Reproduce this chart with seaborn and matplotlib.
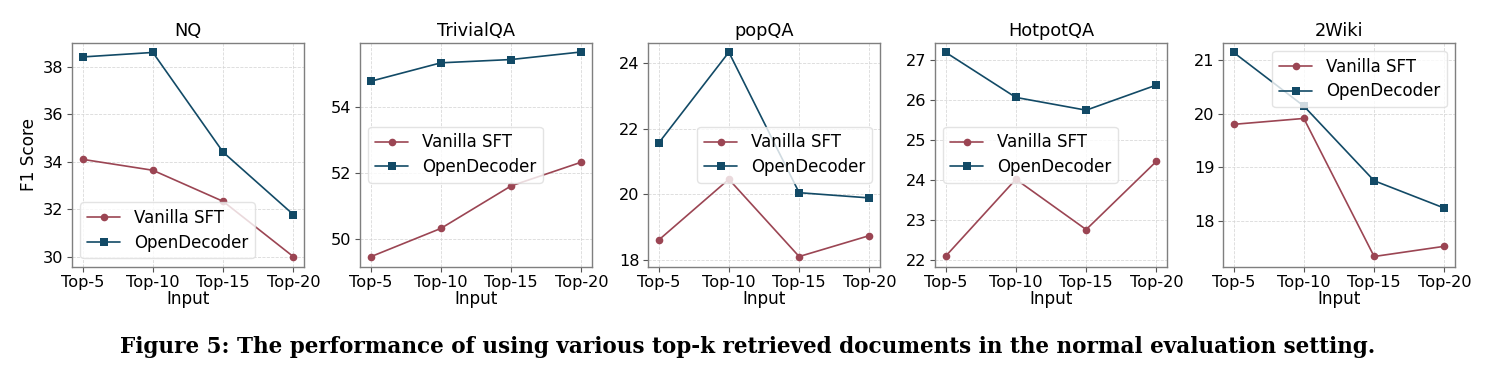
import numpy as np
import pandas as pd
import matplotlib
matplotlib.use("Agg")
import matplotlib.pyplot as plt
import seaborn as sns

inputs = ["Top-5", "Top-10", "Top-15", "Top-20"]
datasets = ["NQ", "TrivialQA", "popQA", "HotpotQA", "2Wiki"]
methods = ["Vanilla SFT", "OpenDecoder"]

vanilla_nq = [34.10, 33.64, 32.33, 30.00]
opendec_nq = [38.41, 38.60, 34.40, 31.77]
vanilla_tqa = [49.45, 50.31, 51.60, 52.32]
opendec_tqa = [54.77, 55.33, 55.43, 55.66]
vanilla_pop = [18.60, 20.46, 18.10, 18.74]
opendec_pop = [21.56, 24.34, 20.05, 19.89]
vanilla_hot = [22.08, 24.01, 22.75, 24.46]
opendec_hot = [27.19, 26.06, 25.74, 26.37]
vanilla_2w = [19.80, 19.91, 17.34, 17.53]
opendec_2w = [21.14, 20.14, 18.75, 18.24]

series = {
    "NQ": (vanilla_nq, opendec_nq),
    "TrivialQA": (vanilla_tqa, opendec_tqa),
    "popQA": (vanilla_pop, opendec_pop),
    "HotpotQA": (vanilla_hot, opendec_hot),
    "2Wiki": (vanilla_2w, opendec_2w),
}

colors = {"Vanilla SFT": "#9b4553", "OpenDecoder": "#124a66"}
markers = {"Vanilla SFT": "o", "OpenDecoder": "s"}
legend_locs = ["lower left", "center left", "center right", "center left", "upper right"]
yticks = [
    [30, 32, 34, 36, 38],
    [50, 52, 54],
    [18, 20, 22, 24],
    [22, 23, 24, 25, 26, 27],
    [18, 19, 20, 21],
]
ylims = [(29.58, 39.01), (49.15, 55.94), (17.79, 24.63), (21.82, 27.43), (17.15, 21.32)]

sns.set_style("white")
plt.rcParams["font.family"] = ["DejaVu Sans"]
plt.rcParams["text.color"] = "black"
plt.rcParams["axes.labelcolor"] = "black"
plt.rcParams["xtick.color"] = "black"
plt.rcParams["ytick.color"] = "black"

fig = plt.figure(figsize=(14.95, 3.78), dpi=100)
W, H = 1495, 378
lefts = [72, 360, 648, 935, 1223]
aw = 232
top, bottom = 42.7, 266.7

for i, name in enumerate(datasets):
    l = lefts[i]
    ax = fig.add_axes([l / W, 1 - bottom / H, aw / W, (bottom - top) / H])
    v, o = series[name]
    df = pd.DataFrame({
        "Input": inputs * 2,
        "F1": list(v) + list(o),
        "Method": ["Vanilla SFT"] * 4 + ["OpenDecoder"] * 4,
    })
    sns.lineplot(data=df, x="Input", y="F1", hue="Method", style="Method",
                 markers=markers, dashes=False, palette=colors, ax=ax,
                 linewidth=1.2, markersize=5.5, markeredgewidth=0, sort=False)
    ax.set_title(name, fontsize=12.8, pad=5)
    ax.set_xlabel("Input", fontsize=12.2, labelpad=0)
    if i == 0:
        ax.set_ylabel("F1 Score", fontsize=12.2)
    else:
        ax.set_ylabel("")
    ax.set_yticks(yticks[i])
    ax.set_ylim(*ylims[i])
    ax.tick_params(axis="both", labelsize=11.6, length=3.5, width=0.8,
                   color="#555555", pad=2.5, direction="out", bottom=True, left=True)
    ax.grid(True, linestyle="--", linewidth=0.6, color="#d5d5d5", alpha=0.9)
    for s in ax.spines.values():
        s.set_color("#7f7f7f")
        s.set_linewidth(1.0)
    leg = ax.legend(loc=legend_locs[i], fontsize=12, frameon=True,
                    handlelength=2.0, borderpad=0.4, labelspacing=0.4)
    leg.get_frame().set_edgecolor("#dddddd")
    leg.get_frame().set_alpha(0.8)

fig.text(0.5, 1 - 347 / H,
         "Figure 5: The performance of using various top-k retrieved documents in the normal evaluation setting.",
         ha="center", va="center", fontsize=15.5, fontweight="bold",
         family=["DejaVu Serif"])

fig.savefig("out.png", dpi=100)
